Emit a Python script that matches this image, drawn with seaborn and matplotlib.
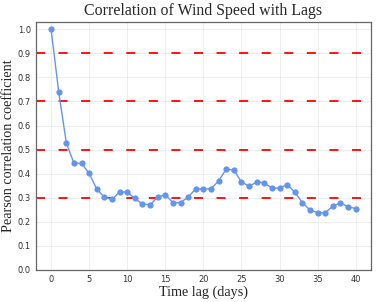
import numpy as np
import pandas as pd
import matplotlib
matplotlib.use('Agg')
import matplotlib.pyplot as plt
import seaborn as sns

# ================== Data ==================
lags = list(range(0, 41))
corr = [1.000, 0.739, 0.528, 0.443, 0.443, 0.401, 0.336, 0.302, 0.293, 0.325,
        0.323, 0.297, 0.274, 0.271, 0.303, 0.313, 0.280, 0.280, 0.303, 0.337,
        0.337, 0.337, 0.370, 0.419, 0.415, 0.366, 0.348, 0.365, 0.363, 0.340,
        0.340, 0.355, 0.324, 0.280, 0.249, 0.238, 0.238, 0.265, 0.278, 0.263,
        0.255]
ref_levels = [0.3, 0.5, 0.7, 0.9]
x_ticks = [0, 5, 10, 15, 20, 25, 30, 35, 40]
y_ticks = [0.0, 0.1, 0.2, 0.3, 0.4, 0.5, 0.6, 0.7, 0.8, 0.9, 1.0]

df = pd.DataFrame({'lag': lags, 'corr': corr})

# ================== Plot ==================
sns.set_style('whitegrid')
plt.rcParams['font.family'] = ['DejaVu Sans']
fig = plt.figure(figsize=(3.9, 3.02), dpi=100)
ax = fig.add_axes([0.092, 0.106, 0.859, 0.821])

sns.lineplot(data=df, x='lag', y='corr', ax=ax, color='cornflowerblue',
             marker='o', markersize=4.5, markeredgewidth=0, linewidth=1.0)

# reference levels
for lv in ref_levels:
    ax.axhline(lv, color='red', linewidth=1.3, dashes=(5, 7.5), zorder=1)

ax.set_xlim(-2, 42)
ax.set_ylim(0, 1.03)
ax.set_xticks(x_ticks)
ax.set_yticks(y_ticks)
ax.grid(True, color='#ebebeb', linewidth=0.6)
ax.tick_params(axis='both', labelsize=6, colors='#333333', length=2, width=0.6,
               pad=1.5)
for s in ax.spines.values():
    s.set_visible(True)
    s.set_color('#666666')
    s.set_linewidth(0.9)

serif = ['Liberation Serif', 'DejaVu Serif']
ax.set_title('Correlation of Wind Speed with Lags', family=serif, fontsize=11.4, pad=5)
ax.set_xlabel('Time lag (days)', family=serif, fontsize=10.2, labelpad=1)
ax.set_ylabel('Pearson correlation coefficient', family=serif, fontsize=10.2, labelpad=2)

fig.savefig('out.png', dpi=100)
